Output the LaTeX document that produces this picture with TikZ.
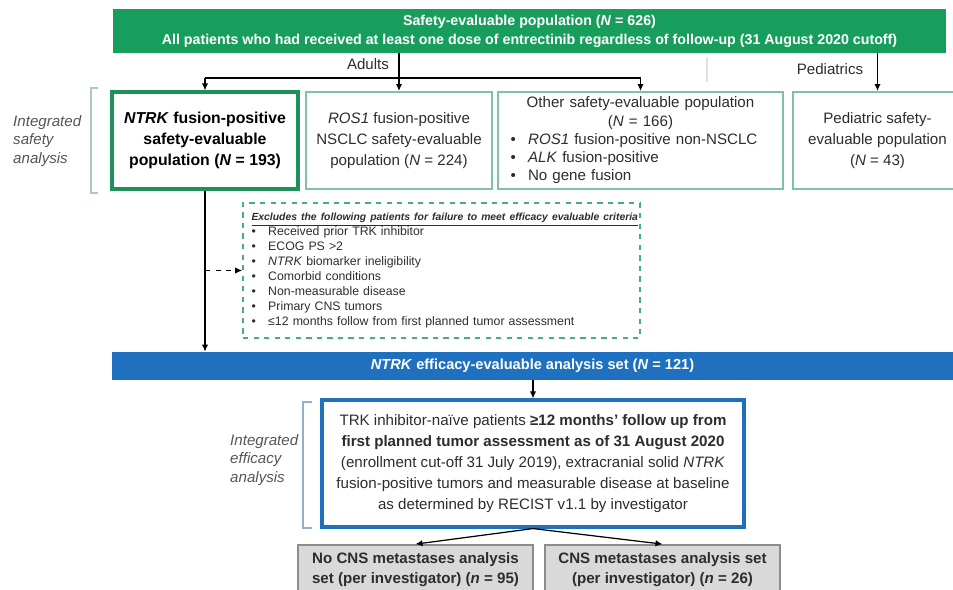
\documentclass[tikz,border=0pt]{standalone}
\usepackage{fontspec}
\setmainfont{Liberation Sans}
\usetikzlibrary{arrows.meta}
\definecolor{safegreen}{RGB}{24,158,92}
\definecolor{boxgreen}{RGB}{125,195,165}
\definecolor{keygreen}{RGB}{30,145,90}
\definecolor{exgreen}{RGB}{70,175,125}
\definecolor{effblue}{RGB}{32,112,192}
\definecolor{subgray}{RGB}{140,140,140}
\definecolor{subfill}{RGB}{217,217,217}
\definecolor{txtgray}{RGB}{45,45,45}
\definecolor{sidegray}{RGB}{85,85,85}
\definecolor{bracegreen}{RGB}{175,200,188}
\definecolor{braceblue}{RGB}{150,175,200}
\newcommand{\bl}{\makebox[9.5pt][l]{\textbullet}}
\newcommand{\bk}{\makebox[10pt][l]{\textbullet}}
\tikzset{
  banner/.style  = {rectangle, fill=safegreen, text=white, align=center, inner sep=0,
                    font=\fontsize{8.1}{10.8}\selectfont\bfseries},
  popbox/.style  = {rectangle, draw=boxgreen, line width=1.1pt, fill=white, align=center,
                    text=txtgray, inner sep=0, font=\fontsize{8.6}{11.9}\selectfont},
  keybox/.style  = {popbox, draw=keygreen, line width=1.8pt, text=black,
                    font=\fontsize{9}{11.9}\selectfont\bfseries},
  exclbox/.style = {rectangle, draw=exgreen, dashed, line width=0.9pt, align=left, text=txtgray,
                    inner sep=0, font=\fontsize{7}{8.5}\selectfont},
  setbar/.style  = {rectangle, fill=effblue, text=white, inner sep=0,
                    font=\fontsize{8.3}{10}\selectfont\bfseries},
  effbox/.style  = {rectangle, draw=effblue, line width=1.8pt, fill=white, align=center,
                    text=txtgray, inner sep=0, font=\fontsize{8.6}{11.9}\selectfont},
  subset/.style  = {rectangle, draw=subgray, fill=subfill, line width=1pt, align=center,
                    text=txtgray, inner sep=0, font=\fontsize{8.6}{11.4}\selectfont\bfseries},
  side/.style    = {anchor=west, align=left, text=sidegray, font=\fontsize{8.6}{10.5}\selectfont\itshape},
  brace/.style   = {line width=1pt},
  link/.style    = {line width=0.7pt, -{Latex[length=4pt,width=3.6pt]}},
  et/.style      = {text=txtgray, font=\fontsize{8.6}{10}\selectfont}
}
\begin{document}
\begin{tikzpicture}[x=0.02cm, y=-0.02cm]
  \useasboundingbox (0,0) rectangle (953,590);

  \node[banner, minimum width=16.66cm, minimum height=0.88cm] (top) at (529.5,31)
    {Safety-evaluable population (\textit{N} = 626)\\
     All patients who had received at least one dose of entrectinib regardless of follow-up (31 August 2020 cutoff)};

  \node[et] (adults) at (368,64) {Adults};
  \node[et] (peds)   at (830,69) {Pediatrics};
  \draw[line width=0.8pt, black!12] (707,57) -- (707,82);

  \node[keybox, minimum width=3.72cm, minimum height=1.94cm] (ntrk) at (205,140.5)
    {\textit{NTRK} fusion-positive\\ safety-evaluable\\ population (\textit{N} = 193)};
  \node[popbox, minimum width=3.72cm, minimum height=1.94cm] (ros1) at (399,140.5)
    {\textit{ROS1} fusion-positive\\ NSCLC safety-evaluable\\ population (\textit{N} = 224)};
  \node[popbox, minimum width=5.7cm, minimum height=1.94cm, text width=5.2cm, align=left,
        font=\fontsize{8.6}{10.4}\selectfont] (other) at (640.5,140.5)
    {{\centering Other safety-evaluable population\\ (\textit{N} = 166)\par}
     \bk\textit{ROS1} fusion-positive non-NSCLC\\
     \bk\textit{ALK} fusion-positive\\
     \bk No gene fusion};
  \node[popbox, minimum width=3.38cm, minimum height=1.94cm] (ped) at (877.5,140.5)
    {Pediatric safety-\\ evaluable population\\ (\textit{N} = 43)};

  \coordinate (split) at (400,78);
  \draw[link] (top.south -| ros1.north) -- (ros1.north);
  \draw[line width=0.7pt] (split -| ntrk.north) -- (split -| other.north);
  \draw[link] (split -| ntrk.north) -- (ntrk.north);
  \draw[link] (split -| other.north) -- (other.north);
  \draw[link] (top.south -| ped.north) -- (ped.north);

  \draw[brace, bracegreen] (98,88) -- (91,88) -- (91,193) -- (98,193);
  \node[side] (safelbl) at (7,141) {Integrated\\ safety\\ analysis};

  \node[exclbox, minimum width=7.94cm, minimum height=2.7cm, text width=7.6cm] (excl) at (441.5,270.5)
    {{\fontsize{5.9}{8.5}\selectfont\underline{\textbf{\textit{Excludes the following patients for failure to meet efficacy evaluable criteria}}}}\\
     \bl Received prior TRK inhibitor\\
     \bl ECOG PS >2\\
     \bl\textit{NTRK} biomarker ineligibility\\
     \bl Comorbid conditions\\
     \bl Non-measurable disease\\
     \bl Primary CNS tumors\\
     \bl ≤12 months follow from first planned tumor assessment};

  \node[setbar, minimum width=16.82cm, minimum height=0.56cm] (bar) at (532.5,366)
    {\textit{NTRK} efficacy-evaluable analysis set (\textit{N} = 121)};

  \draw[link] (ntrk.south) -- (ntrk.south |- bar.north);
  \draw[link, dashed] (ntrk.south |- excl.west) -- (excl.west);

  \node[effbox, minimum width=8.44cm, minimum height=2.54cm] (eff) at (533,463.5)
    {TRK inhibitor-naïve patients \textbf{≥12 months’ follow up from}\\
     \textbf{first planned tumor assessment as of 31 August 2020}\\
     (enrollment cut-off 31 July 2019), extracranial solid \textit{NTRK}\\
     fusion-positive tumors and measurable disease at baseline\\
     as determined by RECIST v1.1 by investigator};
  \draw[link] (bar.south -| eff.north) -- (eff.north);

  \draw[brace, braceblue] (312,402) -- (303,402) -- (303,528) -- (312,528);
  \node[side] (efflbl) at (224,460) {Integrated\\ efficacy\\ analysis};

  \node[subset, minimum width=4.7cm, minimum height=1cm] (nocns) at (415.5,570)
    {No CNS metastases analysis\\ set (per investigator) (\textit{n} = 95)};
  \node[subset, minimum width=4.7cm, minimum height=1cm] (cns) at (662.5,570)
    {CNS metastases analysis set\\ (per investigator) (\textit{n} = 26)};

  \draw[link] (eff.south) -- (nocns.north);
  \draw[link] (eff.south) -- (cns.north);
\end{tikzpicture}
\end{document}
